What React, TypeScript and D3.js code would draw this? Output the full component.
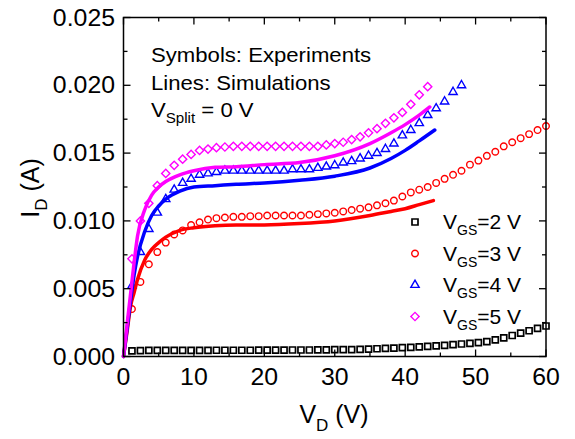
import React from 'react';
import * as d3 from 'd3';

const W = 575;
const H = 439;

// Measured drain voltages (V)
const VD = [1.2, 2.4, 3.6, 4.8, 6, 7.2, 8.4, 9.6, 10.8, 12, 13.2, 14.4, 15.6, 16.8, 18, 19.2, 20.4, 21.6, 22.8, 24,
  25.2, 26.4, 27.6, 28.8, 30, 31.2, 32.4, 33.6, 34.8, 36, 37.2, 38.4, 39.6, 40.8, 42, 43.2, 44.4, 45.6, 46.8, 48,
  49.2, 50.4, 51.6, 52.8, 54, 55.2, 56.4, 57.6, 58.8, 60];

// Experiments (symbols)
const ID_VGS2 = [0.00042, 0.00044, 0.00045, 0.00045, 0.00045, 0.00045, 0.00045, 0.00045, 0.00045, 0.00045,
  0.00046, 0.00046, 0.00046, 0.00046, 0.00046, 0.00047, 0.00047, 0.00047, 0.00047, 0.00048,
  0.00048, 0.00048, 0.00049, 0.00049, 0.0005, 0.0005, 0.00051, 0.00053, 0.00055, 0.00057,
  0.0006, 0.00062, 0.00065, 0.00068, 0.00071, 0.00075, 0.00078, 0.00082, 0.00087, 0.00092,
  0.00097, 0.00103, 0.0011, 0.00122, 0.00138, 0.00155, 0.00172, 0.0019, 0.00207, 0.00225];
const ID_VGS3 = [0.0035, 0.0055, 0.0068, 0.0077, 0.0084, 0.009, 0.0093, 0.0097, 0.0099, 0.0101,
  0.0102, 0.01025, 0.0103, 0.0103, 0.01035, 0.01035, 0.0104, 0.0104, 0.0104, 0.0104,
  0.0104, 0.01045, 0.0105, 0.01055, 0.0106, 0.0107, 0.0108, 0.0109, 0.011, 0.01115,
  0.0113, 0.0115, 0.0118, 0.0121, 0.0123, 0.0125, 0.0128, 0.0131, 0.0134, 0.0137,
  0.01415, 0.01445, 0.0148, 0.0151, 0.0155, 0.0158, 0.0161, 0.0164, 0.0167, 0.017];
const ID_VGS4 = [0.0052, 0.0077, 0.0094, 0.0106, 0.0116, 0.0123, 0.0128, 0.0131, 0.0134, 0.0135,
  0.0136, 0.0137, 0.0137, 0.0137, 0.0137, 0.0137, 0.0137, 0.0137, 0.0137, 0.0138,
  0.0138, 0.0138, 0.0139, 0.014, 0.0141, 0.0143, 0.0144, 0.0146, 0.0148, 0.015,
  0.0153, 0.0157, 0.0163, 0.0167, 0.0172, 0.0178, 0.0183, 0.0188, 0.0195, 0.02];
const ID_VGS5 = [0.0072, 0.01, 0.0113, 0.0126, 0.0135, 0.0141, 0.01455, 0.0149, 0.0152, 0.0153,
  0.0154, 0.01545, 0.0155, 0.0155, 0.0155, 0.0155, 0.0155, 0.0155, 0.0155, 0.0155,
  0.0155, 0.0155, 0.0155, 0.0156, 0.0157, 0.0158, 0.016, 0.0162, 0.0165, 0.0168,
  0.0172, 0.0176, 0.018, 0.0186, 0.0193, 0.0199];

// Simulations (lines)
const SIM3_VD = [0, 0.5, 1, 1.5, 2, 3, 4, 5, 6, 8, 10, 13, 16, 20, 25, 30, 35, 38, 40, 42, 44];
const SIM3_ID = [0, 0.0018, 0.0037, 0.0047, 0.0057, 0.0071, 0.0079, 0.0084, 0.0088, 0.0093, 0.0095,
  0.00965, 0.0097, 0.0097, 0.0098, 0.01, 0.0104, 0.0107, 0.0109, 0.0112, 0.0115];
const SIM4_VD = [0, 0.5, 1, 1.5, 2, 3, 4, 5, 6, 8, 10, 13, 16, 20, 25, 30, 35, 38, 40, 42, 44.2];
const SIM4_ID = [0, 0.002, 0.0041, 0.006, 0.0074, 0.0092, 0.0104, 0.0111, 0.0116, 0.0122, 0.0125,
  0.0126, 0.0127, 0.0128, 0.013, 0.0133, 0.0139, 0.0146, 0.0152, 0.0159, 0.0167];
const SIM5_VD = [0, 0.5, 1, 1.5, 2, 3, 4, 5, 6, 8, 10, 13, 16, 20, 25, 30, 35, 38, 40, 42, 43.5];
const SIM5_ID = [0, 0.0023, 0.0046, 0.0069, 0.0089, 0.0108, 0.0119, 0.0125, 0.0129, 0.0134, 0.0137,
  0.01395, 0.014, 0.01415, 0.0143, 0.0148, 0.0157, 0.0165, 0.0171, 0.0178, 0.0184];

const X_TICKS = [0, 10, 20, 30, 40, 50, 60];
const X_MINOR = [5, 15, 25, 35, 45, 55];
const Y_TICKS = [0, 0.005, 0.01, 0.015, 0.02, 0.025];
const Y_MINOR = [0.0025, 0.0075, 0.0125, 0.0175, 0.0225];
const LEGEND = ['2', '3', '4', '5'];
const COLORS = ['#000000', '#ff0000', '#0000ff', '#ff00ff'];

const FONT = "'Liberation Sans', Arial, sans-serif";

const L = 123.5, R = 546, T = 17.5, B = 356.5;
const SX = 1.08; // horizontal stretch of the reference's glyphs

export default function App() {
  const x = d3.scaleLinear().domain([0, 60]).range([L, R]);
  const y = d3.scaleLinear().domain([0, 0.025]).range([B, T]);

  const line = d3.line<[number, number]>()
    .x(d => x(d[0]))
    .y(d => y(d[1]))
    .curve(d3.curveMonotoneX);

  const sims = [
    { vd: SIM3_VD, id: SIM3_ID, c: COLORS[1] },
    { vd: SIM4_VD, id: SIM4_ID, c: COLORS[2] },
    { vd: SIM5_VD, id: SIM5_ID, c: COLORS[3] },
  ];

  const sq = d3.symbol().type(d3.symbolSquare).size(36)() as string;
  const circ = d3.symbol().type(d3.symbolCircle).size(34)() as string;
  const tri = d3.symbol().type(d3.symbolTriangle).size(30)() as string;
  const dia = d3.symbol().type(d3.symbolSquare).size(34)() as string;
  const shapes = [
    { p: sq, rot: 0, w: 1.7 },
    { p: circ, rot: 0, w: 1.4 },
    { p: tri, rot: 0, w: 1.4 },
    { p: dia, rot: 45, w: 1.4 },
  ];
  const series = [ID_VGS2, ID_VGS3, ID_VGS4, ID_VGS5];

  const legendY = [222, 253.5, 285, 316.5];

  return (
    <svg width={W} height={H} style={{ position: 'absolute', left: 0, top: 0, background: '#fff' }}
      fontFamily={FONT}>
      <rect x={0} y={0} width={W} height={H} fill="#fff" />
      {/* symbols */}
      {series.map((s, si) => (
        <g key={si} fill="none" stroke={COLORS[si]} strokeWidth={shapes[si].w}>
          {s.map((v, i) => (
            <path key={i} d={shapes[si].p}
              transform={`translate(${x(VD[i])},${y(v)}) rotate(${shapes[si].rot})`} />
          ))}
        </g>
      ))}
      {/* lines */}
      {sims.map((s, i) => (
        <path key={i} d={line(s.vd.map((v, k) => [v, s.id[k]] as [number, number])) as string}
          fill="none" stroke={s.c} strokeWidth={3.5} strokeLinecap="round" />
      ))}
      {/* frame */}
      <rect x={L} y={T} width={R - L} height={B - T} fill="none" stroke="#000" strokeWidth={1.5} />
      {/* x ticks */}
      {X_TICKS.map(t => (
        <g key={'x' + t}>
          <line x1={x(t)} x2={x(t)} y1={B} y2={B - 7} stroke="#000" strokeWidth={1.3} />
          <line x1={x(t)} x2={x(t)} y1={T} y2={T + 7} stroke="#000" strokeWidth={1.3} />
          <text transform={`translate(${x(t)},385) scale(${SX},1)`} textAnchor="middle" fontSize={23}>{t}</text>
        </g>
      ))}
      {X_MINOR.map(t => (
        <g key={'xm' + t}>
          <line x1={x(t)} x2={x(t)} y1={B} y2={B - 4} stroke="#000" strokeWidth={1.3} />
          <line x1={x(t)} x2={x(t)} y1={T} y2={T + 4} stroke="#000" strokeWidth={1.3} />
        </g>
      ))}
      {Y_TICKS.map(t => (
        <g key={'y' + t}>
          <line x1={L} x2={L + 7} y1={y(t)} y2={y(t)} stroke="#000" strokeWidth={1.3} />
          <line x1={R} x2={R - 7} y1={y(t)} y2={y(t)} stroke="#000" strokeWidth={1.3} />
          <text transform={`translate(115,${y(t) + 8}) scale(${SX},1)`} textAnchor="end" fontSize={23}>
            {d3.format('.3f')(t)}
          </text>
        </g>
      ))}
      {Y_MINOR.map(t => (
        <g key={'ym' + t}>
          <line x1={L} x2={L + 4} y1={y(t)} y2={y(t)} stroke="#000" strokeWidth={1.3} />
          <line x1={R} x2={R - 4} y1={y(t)} y2={y(t)} stroke="#000" strokeWidth={1.3} />
        </g>
      ))}
      {/* axis titles */}
      <text x={334} y={423} textAnchor="middle" fontSize={25}>
        V<tspan fontSize={17} dy={8}>D</tspan><tspan dy={-8}> (V)</tspan>
      </text>
      <text transform="translate(39,188) rotate(-90)" textAnchor="middle" fontSize={25}>
        I<tspan fontSize={17} dy={8}>D</tspan><tspan dy={-8}> (A)</tspan>
      </text>
      {/* annotation */}
      <g transform={`translate(151,0) scale(${SX},1)`}>
        <text x={0} y={62} fontSize={20.5}>Symbols: Experiments</text>
        <text x={0} y={90} fontSize={20.5}>Lines: Simulations</text>
        <text x={0} y={117} fontSize={20.5}>
          V<tspan fontSize={14} dy={6}>Split</tspan><tspan dy={-6}> = 0 V</tspan>
        </text>
      </g>
      {/* legend */}
      {LEGEND.map((v, i) => (
        <g key={'lg' + v}>
          <path d={shapes[i].p} transform={`translate(415,${legendY[i]}) rotate(${shapes[i].rot})`}
            fill="none" stroke={COLORS[i]} strokeWidth={shapes[i].w} />
          <text x={443} y={legendY[i] + 7} fontSize={21}>
            V<tspan fontSize={14} dy={6}>GS</tspan><tspan dy={-6}>={v} V</tspan>
          </text>
        </g>
      ))}
    </svg>
  );
}
